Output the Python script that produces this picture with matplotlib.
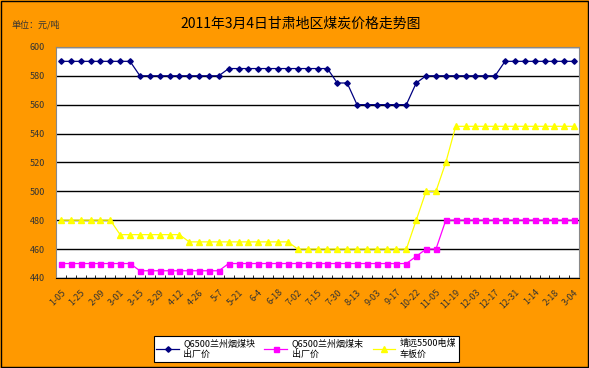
import matplotlib
matplotlib.use("Agg")
import matplotlib.pyplot as plt
from matplotlib.patches import Rectangle

plt.rcParams['font.family'] = ['Noto Sans CJK SC', 'DejaVu Sans']

# weekly prices, yuan/ton
lump = [590]*8 + [580]*9 + [585]*11 + [575]*2 + [560]*6 + [575] + [580]*8 + [590]*8
fines = [450]*8 + [445]*9 + [450]*19 + [455] + [460]*2 + [480]*14
jingyuan = [480]*6 + [470]*7 + [465]*11 + [460]*12 + [480] + [500]*2 + [520] + [545]*13

date_labels = ['1-05', '1-25', '2-09', '3-01', '3-15', '3-29', '4-12', '4-26', '5-7',
               '5-21', '6-4', '6-18', '7-02', '7-15', '7-30', '8-13', '9-03', '9-17',
               '10-22', '11-05', '11-19', '12-03', '12-17', '12-31', '1-14', '2-18', '3-04']

names = ['Q6500兰州烟煤块\n出厂价', 'Q6500兰州烟煤末\n出厂价', '靖远5500电煤\n车板价']

orange = '#FF9900'
x = list(range(len(lump)))

fig = plt.figure(figsize=(5.89, 3.68), dpi=100, facecolor=orange)
ax = fig.add_axes([0.0951, 0.2446, 0.888, 0.628])
ax.set_facecolor('white')

ax.plot(x, lump, color='#000080', marker='D', markersize=2.8, linewidth=0.9, label=names[0])
ax.plot(x, fines, color='#FF00FF', marker='s', markersize=3.6, linewidth=0.9, label=names[1])
ax.plot(x, jingyuan, color='#FFFF00', marker='^', markersize=3.8, linewidth=0.9, label=names[2])

ax.set_ylim(440, 600)
ax.set_yticks(range(440, 601, 20))
ax.set_xlim(-0.5, 52.5)
ax.grid(axis='y', color='black', linewidth=1)
ax.set_axisbelow(True)

ax.set_xticks(x[::2])
ax.set_xticklabels(date_labels, rotation=45, ha='right', rotation_mode='anchor', fontsize=6.5, color='#333333')
ax.set_xticks([i + 0.5 for i in x[:-1]], minor=True)
ax.tick_params(axis='x', which='major', length=0, pad=7)
ax.tick_params(axis='x', which='minor', direction='in', length=2, color='black')
ax.tick_params(axis='y', length=0, labelsize=6.5, labelcolor='#333333', pad=8)

for side in ['top', 'left', 'right']:
    ax.spines[side].set_color('#888888')
ax.spines['bottom'].set_color('black')

fig.text(0.51, 0.935, '2011年3月4日甘肃地区煤炭价格走势图', ha='center', va='center', fontsize=10)
fig.text(0.02, 0.932, '单位：元/吨', ha='left', va='center', fontsize=6.5, color='#333333')

leg = fig.legend(loc='center', bbox_to_anchor=(0.52, 0.052), ncol=3, fontsize=6.5,
                 frameon=True, fancybox=False, edgecolor='black', framealpha=1,
                 borderpad=0.3, handlelength=2.5, columnspacing=1.0, handletextpad=0.5)
leg.get_frame().set_linewidth(0.8)

fig.patches.append(Rectangle((0.002, 0.003), 0.996, 0.994, transform=fig.transFigure,
                             fill=False, edgecolor='black', linewidth=1))

fig.savefig('out.png', dpi=100, facecolor=orange)
